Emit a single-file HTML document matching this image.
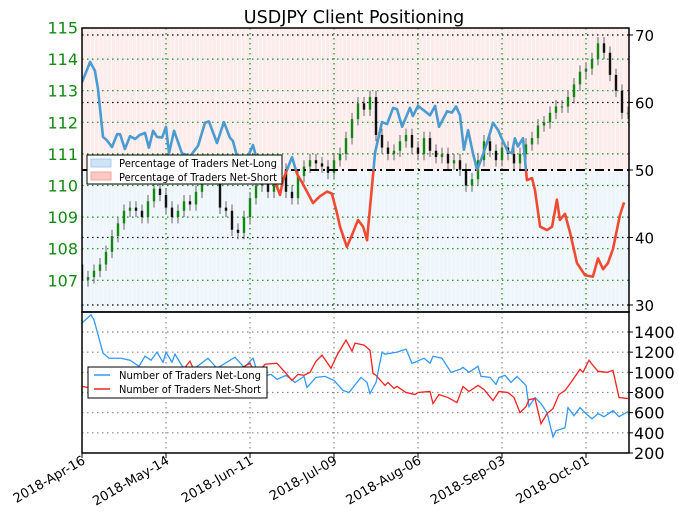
<!DOCTYPE html>
<html><head><meta charset="utf-8"><style>
html,body{margin:0;padding:0;background:#fff;}
svg{display:block;font-family:"DejaVu Sans","Liberation Sans",sans-serif;}
</style></head><body>
<svg id="chart" width="679" height="518" viewBox="0 0 679 518">
<defs>
<clipPath id="clipTop"><rect x="82" y="28" width="547" height="284"/></clipPath>
<clipPath id="clipAbove"><rect x="82" y="28" width="547" height="142"/></clipPath>
<clipPath id="clipBelow"><rect x="82" y="170" width="547" height="142"/></clipPath>
<clipPath id="clipBot"><rect x="82" y="312" width="547" height="141"/></clipPath>
</defs>
<text x="354" y="23" font-size="17.5" text-anchor="middle" fill="#000">USDJPY Client Positioning</text>
<g id="topPanel"></g>
<g id="botPanel"></g>
</svg>
<script>
// ---- data ----
const dateTickLabels = ["2018-Apr-16","2018-May-14","2018-Jun-11","2018-Jul-09","2018-Aug-06","2018-Sep-03","2018-Oct-01"];
const dateTickDays = [0,28,56,84,112,140,168];
const priceTicks = [107,108,109,110,111,112,113,114,115];
const pctTicks = [30,40,50,60,70];
const countTicks = [200,400,600,800,1000,1200,1400];
const candleDays = [0,2,4,6,8,10,12,14,16,18,20,22,24,26,28,30,32,34,36,38,40,42,44,46,48,50,52,54,56,58,60,62,64,66,68,70,72,74,76,78,80,82,84,86,88,90,92,94,96,98,100,102,104,106,108,110,112,114,116,118,120,122,124,126,128,130,132,134,136,138,140,142,144,146,148,150,152,154,156,158,160,162,164,166,168,170,172,174,176,178,180,182];
const closes = [107.0,107.1,107.3,107.5,107.9,108.4,108.8,109.2,109.3,109.2,109.0,109.5,109.9,109.7,109.3,109.0,109.2,109.5,109.4,109.8,110.4,110.7,110.5,109.3,109.2,108.6,108.5,109.0,109.6,110.0,110.2,109.8,110.3,110.5,109.8,109.6,110.3,110.6,110.8,110.7,110.6,110.4,110.8,111.0,111.5,112.1,112.6,112.4,112.8,111.6,111.2,111.0,111.1,111.4,111.6,111.2,111.0,111.5,111.1,110.9,111.0,110.7,110.8,110.5,110.0,110.2,110.8,111.4,111.1,110.8,111.2,111.0,110.7,111.0,111.3,111.5,111.9,112.0,112.3,112.5,112.5,112.8,113.2,113.6,113.7,114.0,114.5,114.2,113.5,113.0,112.3,112.3];
const pctDays = [0,2.7,4.3,5.3,7,8.3,10,11.7,12.7,14.3,16,17.7,19.3,21,22.3,23.7,25,26.7,28,29,30.7,33.3,36,38.7,41,42.3,45,47.3,49.3,50.3,51.7,54.3,57,58.3,61.7,65,66,67,70,71.7,73.3,75,77,79.3,81.7,83.3,85,86,88.3,90.3,92,93.7,95,97.7,100,101.7,103.7,105,106.7,109.3,110.3,112,114.3,116,117.7,119,121.7,123.3,124.7,126,127.3,128.7,130.3,131.7,133,135,137,138.7,140.3,142,143.3,144.3,145.3,147,148.3,150,151,152.7,155,156.7,158.3,159.3,161,162.7,165,167.7,170.3,172,173.7,175.3,177,179.3,180.7];
const pctNetLong = [63.0,66.0,64.7,62.1,54.9,54.4,53.4,55.3,55.3,53.1,55.0,54.6,55.2,55.5,53.3,55.8,54.9,54.8,56.4,52.5,55.8,52.5,52,53.6,57,57.2,54,57.1,54.8,54.3,52,51,53.7,51.5,49.5,47.5,46.3,48.5,51.9,49.4,48.2,46.8,45.1,46.1,46.8,46.5,43.6,41.6,38.6,40.7,42.6,41.6,39.6,52.6,57.1,56.8,59.2,59,56.4,59.2,58,59.5,58.7,58.1,59.5,56.4,58.7,58.5,59.4,58.1,53,55.9,52.5,50,51.5,54,57,55.9,54.3,52.7,52.5,54.7,53.5,54.7,48.5,48.8,47,41.6,41.1,41.6,45.6,42.6,43.5,40.7,36.2,34.4,34.2,36.9,35.3,36.2,38.3,43.3,45.2];
const longDays = [0,3,4,7,9,13,16,19,21,23,25,27,28,30,31,33,35,38,42,45,51,54,57,59,63,65,68,71,74,75,78,81,84,87,89,93,95,96,98,100,101,105,108,110,111,114,116,117,120,123,126,127,129,132,133,136,138,139,141,143,145,148,149,151,153,155,157,158,161,162,164,166,168,170,172,174,177,179,182];
const longCounts = [1490,1570,1520,1190,1140,1140,1120,1060,1160,1120,1200,1100,1200,1100,1180,1080,1000,1050,1140,1040,1150,1050,1140,950,980,930,970,900,960,850,950,960,920,820,800,950,900,790,900,1200,1180,1200,1230,1090,1100,1140,1090,1160,1140,1000,1030,1050,1000,1060,960,950,880,950,970,900,960,870,660,750,690,600,360,420,450,650,570,650,590,540,590,560,620,560,610];
const shortDays = [0,2,10,19,28,33,36,38,45,51,56,58,61,65,68,70,72,74,76,78,80,83,85,87,88,90,91,94,96,97,98,101,102,104,105,108,111,112,116,117,119,122,125,127,129,132,134,137,139,142,144,146,148,149,151,153,155,157,159,161,163,166,167,169,170,172,175,177,179,182];
const shortCounts = [860,850,900,920,960,1000,1110,980,1000,1010,1090,970,1080,1090,990,920,980,970,1000,1110,1170,1040,1170,1270,1320,1210,1290,1270,1220,990,970,870,900,840,860,800,780,800,810,690,780,750,700,860,810,870,830,720,810,800,750,600,660,730,740,490,590,640,780,820,900,1030,1000,1120,1080,1010,1000,1020,750,740];

// ---- scales ----
const X0 = 82, X1 = 629, PX_PER_DAY = 3;
const xDay = d => X0 + d * PX_PER_DAY;
const yPrice = p => 27.5 + (115 - p) * 31.6;
const yPct = v => 170 - (v - 50) * 6.75;
const yCount = c => 332 + (1400 - c) * (121 / 1200);
const SVGNS = "http://www.w3.org/2000/svg";
function mk(parent, tag, attrs) {
  const e = document.createElementNS(SVGNS, tag);
  for (const k in attrs) e.setAttribute(k, attrs[k]);
  parent.appendChild(e);
  return e;
}
const gTop = document.getElementById('topPanel');
const gBot = document.getElementById('botPanel');

// backgrounds
const bg1 = mk(gTop, 'rect', {x: X0, y: 28, width: X1 - X0, height: 142, fill: '#fdecec'});


const bg2 = mk(gTop, 'rect', {x: X0, y: 170, width: X1 - X0, height: 142, fill: '#eef5fb'});


for (let d = 0; d <= 182; d += 1.4) {
  mk(gTop, 'line', {x1: xDay(d), x2: xDay(d), y1: 28, y2: 312, stroke: '#ffffff', 'stroke-width': 0.8, opacity: 0.6});
}

// gridlines top
priceTicks.forEach(p => {
  if (p === 115) return;
  mk(gTop, 'line', {x1: X0, x2: X1, y1: yPrice(p), y2: yPrice(p), stroke: '#1a8a1a', 'stroke-width': 1.2, 'stroke-dasharray': '1.5,3.5'});
});
pctTicks.forEach(v => {
  if (v === 50) return;
  mk(gTop, 'line', {x1: X0, x2: X1, y1: yPct(v), y2: yPct(v), stroke: '#000', 'stroke-width': 1.2, 'stroke-dasharray': '1.5,3.5'});
});
dateTickDays.forEach(d => {
  if (d === 0) return;
  mk(gTop, 'line', {x1: xDay(d), x2: xDay(d), y1: 28, y2: 312, stroke: '#1a8a1a', 'stroke-width': 1.2, 'stroke-dasharray': '1.5,3.5'});
});

// candles
const gC = mk(gTop, 'g', {'clip-path': 'url(#clipTop)'});


closes.forEach((c, i) => {
  const o = i === 0 ? c + 0.5 : closes[i - 1];
  const x = xDay(candleDays[i]);
  const col = c >= o ? '#118811' : '#111';
  const hi = Math.max(o, c) + 0.2, lo = Math.min(o, c) - 0.2;
  mk(gC, 'line', {x1: x, x2: x, y1: yPrice(hi), y2: yPrice(lo), stroke: '#666', 'stroke-width': 1});
  const r = mk(gC, 'rect', {x: x - 1.2, y: yPrice(Math.max(o, c)), width: 2.4, height: Math.max(1, Math.abs(yPrice(o) - yPrice(c))), fill: col});
  
  
});

// 50 line
const l50 = mk(gTop, 'line', {x1: X0, x2: X1, y1: yPct(50), y2: yPct(50), stroke: '#000', 'stroke-width': 2, 'stroke-dasharray': '9,4,2,4'});



// pct line
const pctPts = pctDays.map((d, i) => xDay(d) + ',' + yPct(pctNetLong[i])).join(' ');
const pl1 = mk(gTop, 'polyline', {points: pctPts, fill: 'none', stroke: '#4a9bd0', 'stroke-width': 2.6, 'stroke-linejoin': 'round', 'clip-path': 'url(#clipAbove)'});


const pl2 = mk(gTop, 'polyline', {points: pctPts, fill: 'none', stroke: '#f04a30', 'stroke-width': 2.6, 'stroke-linejoin': 'round', 'clip-path': 'url(#clipBelow)'});



// frame top
mk(gTop, 'rect', {x: X0, y: 28, width: X1 - X0, height: 284, fill: 'none', stroke: '#000', 'stroke-width': 1.5});

// axis ticks
priceTicks.forEach(p => {
  const t = mk(gTop, 'text', {x: 78, y: yPrice(p) + 6, 'font-size': 16, 'text-anchor': 'end', fill: '#138a13'});
  t.textContent = p;
  
  
});
pctTicks.forEach(v => {
  mk(gTop, 'line', {x1: X1, x2: X1 + 4, y1: yPct(v), y2: yPct(v), stroke: '#000'});
  const t = mk(gTop, 'text', {x: 635, y: yPct(v) + 6, 'font-size': 15, fill: '#000'});
  t.textContent = v;
  
  
});

// top legend
const lg = mk(gTop, 'g', {});


mk(lg, 'rect', {x: 87, y: 155, width: 195, height: 29, fill: '#fff', stroke: '#000', 'stroke-width': 1});
mk(lg, 'rect', {x: 91, y: 159, width: 20, height: 8, fill: '#cfe3f7', stroke: '#a9cdee'});
mk(lg, 'rect', {x: 91, y: 172, width: 20, height: 8, fill: '#fbc9c5', stroke: '#f4a7a0'});
const t1 = mk(lg, 'text', {x: 119, y: 167, 'font-size': 11, textLength: 158, lengthAdjust: 'spacingAndGlyphs'});
t1.textContent = 'Percentage of Traders Net-Long';
const t2 = mk(lg, 'text', {x: 119, y: 181, 'font-size': 11, textLength: 158, lengthAdjust: 'spacingAndGlyphs'});
t2.textContent = 'Percentage of Traders Net-Short';

// bottom panel
countTicks.forEach(c => {
  if (c !== 200) mk(gBot, 'line', {x1: X0, x2: X1, y1: yCount(c), y2: yCount(c), stroke: '#888', 'stroke-width': 1.2, 'stroke-dasharray': '1.5,3.5'});
  mk(gBot, 'line', {x1: X1, x2: X1 + 4, y1: yCount(c), y2: yCount(c), stroke: '#000'});
  const t = mk(gBot, 'text', {x: 634, y: yCount(c) + 6, 'font-size': 16, fill: '#000'});
  t.textContent = c;
  
  
});
dateTickDays.forEach((d, i) => {
  if (d !== 0) mk(gBot, 'line', {x1: xDay(d), x2: xDay(d), y1: 312, y2: 453, stroke: '#888', 'stroke-width': 1.2, 'stroke-dasharray': '1.5,3.5'});
  mk(gBot, 'line', {x1: xDay(d), x2: xDay(d), y1: 453, y2: 458, stroke: '#000'});
  const t = mk(gBot, 'text', {x: xDay(d) + 4, y: 463, 'font-size': 13, 'text-anchor': 'end', transform: 'rotate(-30 ' + (xDay(d) + 4) + ' 463)'});
  t.textContent = dateTickLabels[i];
  
  
});
const longPts = longDays.map((d, i) => xDay(d) + ',' + yCount(longCounts[i])).join(' ');
const lp = mk(gBot, 'polyline', {points: longPts, fill: 'none', stroke: '#3399ff', 'stroke-width': 1.3, 'clip-path': 'url(#clipBot)'});


const shortPts = shortDays.map((d, i) => xDay(d) + ',' + yCount(shortCounts[i])).join(' ');
const sp = mk(gBot, 'polyline', {points: shortPts, fill: 'none', stroke: '#ff2020', 'stroke-width': 1.3, 'clip-path': 'url(#clipBot)'});


mk(gBot, 'rect', {x: X0, y: 312, width: X1 - X0, height: 141, fill: 'none', stroke: '#000', 'stroke-width': 1.5});

const lg2 = mk(gBot, 'g', {});


mk(lg2, 'rect', {x: 88, y: 367, width: 179, height: 31, fill: '#fff', stroke: '#000', 'stroke-width': 1});
mk(lg2, 'line', {x1: 94, x2: 110, y1: 375, y2: 375, stroke: '#3399ff', 'stroke-width': 1.5});
mk(lg2, 'line', {x1: 94, x2: 110, y1: 389, y2: 389, stroke: '#ff2020', 'stroke-width': 1.5});
const t3 = mk(lg2, 'text', {x: 119, y: 379, 'font-size': 11, textLength: 142, lengthAdjust: 'spacingAndGlyphs'});
t3.textContent = 'Number of Traders Net-Long';
const t4 = mk(lg2, 'text', {x: 119, y: 393, 'font-size': 11, textLength: 142, lengthAdjust: 'spacingAndGlyphs'});
t4.textContent = 'Number of Traders Net-Short';
</script>
</body></html>
